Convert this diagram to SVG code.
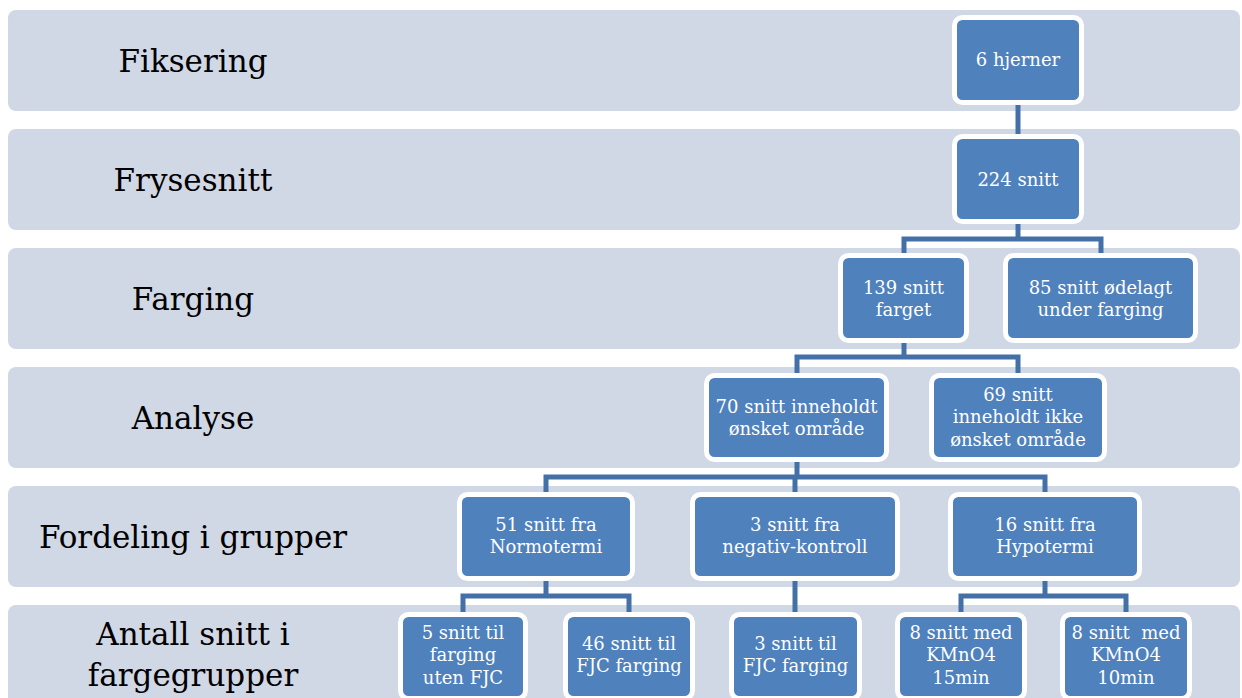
<svg xmlns="http://www.w3.org/2000/svg" width="1242" height="698" viewBox="0 0 1242 698">
<style>
.band{fill:#D0D7E5}
.lbl{font-family:"DejaVu Serif","Liberation Serif",serif;font-size:31px;fill:#000;text-anchor:middle}
.node rect{fill:#4F81BD;stroke:#FFFFFF;stroke-width:5}
.node text{font-family:"DejaVu Serif","Liberation Serif",serif;font-size:18px;fill:#FFFFFF;text-anchor:middle;white-space:pre}
.conn{fill:none;stroke:#4470A8;stroke-width:5;stroke-linejoin:miter}
</style>
<rect width="1242" height="698" fill="#FFFFFF"/>
<g id="bands">
<rect class="band" x="8" y="10" width="1232" height="101" rx="8"/>
<rect class="band" x="8" y="129" width="1232" height="101" rx="8"/>
<rect class="band" x="8" y="248" width="1232" height="101" rx="8"/>
<rect class="band" x="8" y="367" width="1232" height="101" rx="8"/>
<rect class="band" x="8" y="486" width="1232" height="101" rx="8"/>
<rect class="band" x="8" y="605" width="1232" height="101" rx="8"/>
<text class="lbl" x="193" y="72">Fiksering</text>
<text class="lbl" x="193" y="191">Frysesnitt</text>
<text class="lbl" x="193" y="310">Farging</text>
<text class="lbl" x="193" y="429">Analyse</text>
<text class="lbl" x="193" y="548">Fordeling i grupper</text>
<text class="lbl" x="193" y="645">Antall snitt i</text>
<text class="lbl" x="193" y="686">fargegrupper</text>
</g>
<g id="connectors">
<path class="conn" d="M1018 100 V139"/>
<path class="conn" d="M1018 219 V239"/>
<path class="conn" d="M904 258 V239 H1101 V258"/>
<path class="conn" d="M904 338 V357"/>
<path class="conn" d="M797 378 V357 H1018 V378"/>
<path class="conn" d="M797 457 V477"/>
<path class="conn" d="M546 497 V477 H1045 V497"/>
<path class="conn" d="M795 477 V497"/>
<path class="conn" d="M546 576 V596"/>
<path class="conn" d="M463 617 V596 H629 V617"/>
<path class="conn" d="M795 576 V617"/>
<path class="conn" d="M1045 576 V596"/>
<path class="conn" d="M961 617 V596 H1126 V617"/>
</g>
<g id="n1" class="node"><rect x="954.5" y="17.5" width="127" height="85" rx="8"/><text x="1018" y="66">6 hjerner</text></g>
<g id="n2" class="node"><rect x="954.5" y="136.5" width="127" height="85" rx="8"/><text x="1018" y="186">224 snitt</text></g>
<g id="n3" class="node"><rect x="840.5" y="255.5" width="126" height="85" rx="8"/><text x="903.5" y="294">139 snitt</text><text x="903.5" y="316">farget</text></g>
<g id="n4" class="node"><rect x="1005.5" y="255.5" width="190" height="85" rx="8"/><text x="1100.5" y="294">85 snitt ødelagt</text><text x="1100.5" y="316">under farging</text></g>
<g id="n5" class="node"><rect x="706.5" y="375.5" width="180" height="84" rx="8"/><text x="796.5" y="413">70 snitt inneholdt</text><text x="796.5" y="435">ønsket område</text></g>
<g id="n6" class="node"><rect x="931.5" y="375.5" width="173" height="84" rx="8"/><text x="1018" y="401">69 snitt</text><text x="1018" y="423">inneholdt ikke</text><text x="1018" y="446">ønsket område</text></g>
<g id="n7" class="node"><rect x="459.5" y="494.5" width="173" height="84" rx="8"/><text x="546" y="531">51 snitt fra</text><text x="546" y="553">Normotermi</text></g>
<g id="n8" class="node"><rect x="692.5" y="494.5" width="205" height="84" rx="8"/><text x="795" y="531">3 snitt fra</text><text x="795" y="553">negativ-kontroll</text></g>
<g id="n9" class="node"><rect x="950.5" y="494.5" width="189" height="84" rx="8"/><text x="1045" y="531">16 snitt fra</text><text x="1045" y="553">Hypotermi</text></g>
<g id="n10" class="node"><rect x="400.5" y="614.5" width="125" height="84" rx="8"/><text x="463" y="639">5 snitt til</text><text x="463" y="661">farging</text><text x="463" y="684">uten FJC</text></g>
<g id="n11" class="node"><rect x="565.5" y="614.5" width="127" height="84" rx="8"/><text x="629" y="650">46 snitt til</text><text x="629" y="672">FJC farging</text></g>
<g id="n12" class="node"><rect x="731.5" y="614.5" width="128" height="84" rx="8"/><text x="795.5" y="650">3 snitt til</text><text x="795.5" y="672">FJC farging</text></g>
<g id="n13" class="node"><rect x="897.5" y="614.5" width="127" height="84" rx="8"/><text x="961" y="639">8 snitt med</text><text x="961" y="661">KMnO4</text><text x="961" y="684">15min</text></g>
<g id="n14" class="node"><rect x="1062.5" y="614.5" width="127" height="84" rx="8"/><text x="1126" y="639">8 snitt  med</text><text x="1126" y="661">KMnO4</text><text x="1126" y="684">10min</text></g>
</svg>
